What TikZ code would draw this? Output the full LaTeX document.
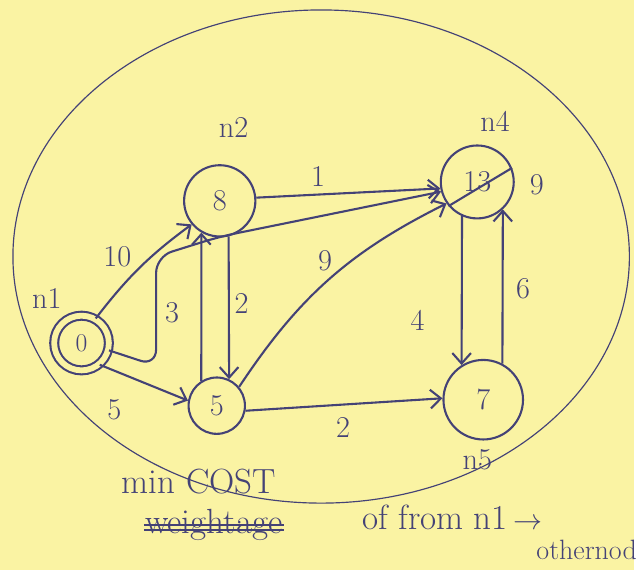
\documentclass[tikz,border=0pt]{standalone}
\usetikzlibrary{arrows.meta}
\definecolor{paper}{RGB}{250,243,163}
\definecolor{ink}{RGB}{68,66,118}
\begin{document}
\begin{tikzpicture}[x=0.03cm,y=-0.03cm,
  font=\fontsize{26}{30}\selectfont,
  every node/.style={text=ink},
  vertex/.style={draw=ink,line width=1.8pt,circle,inner sep=0pt},
  edge/.style={draw=ink,line width=1.8pt,-{Straight Barb[length=9pt,width=16pt,line width=1.8pt]}},
  note/.style={font=\fontsize{30}{34}\selectfont,inner sep=1pt}]
\fill[paper] (0,0) rectangle (638,573);
\draw[ink,line width=1pt] (323,258) ellipse [x radius=310,y radius=248];
\node[vertex,minimum size=1.65cm,double=paper,double distance=5pt,font=\fontsize{22}{24}\selectfont] (n1) at (82,345) {0};
\node[vertex,minimum size=2.15cm] (n2) at (221,202) {8};
\node[vertex,minimum size=1.7cm] (n3) at (218,408) {5};
\node[vertex,minimum size=2.2cm] (n4) at (480,183) {13};
\node[vertex,minimum size=2.4cm] (n5) at (486,402) {7};
\draw[ink,line width=1.8pt] (n4.-140) -- (n4.22);
\node (l1) at (47,300) {n1};
\node (l2) at (235,128) {n2};
\node (l4) at (498,122) {n4};
\node (l5) at (480,462) {n5};
\node (v4) at (540,186) {9};
\draw[edge] (n1.60) to[bend left=8] (n2.-140);
\draw[edge] (n1.-50) -- (n3.170);
\draw[edge] (n3.122) -- (n2.-120);
\draw[edge] (n2.-76) -- (n3.65);
\draw[edge] (n2.5) -- (n4.190);
\draw[edge] (n3.40) to[bend left=15] (n4.-145);
\draw[edge] (n4.-114) -- (n5.122);
\draw[edge] (n5.62) -- (n4.-47);
\draw[edge] (n3.-10) -- (n5.178);
\draw[edge,rounded corners=14pt] (n1.-15) -- (157,368) -- (157,258) -- (221,238) -- (n4.-165);
\node (w12) at (118,258) {10};
\node (w13) at (115,412) {5};
\node (w32) at (173,315) {3};
\node (w23) at (243,305) {2};
\node (w24) at (320,178) {1};
\node (w34) at (327,262) {9};
\node (w45) at (420,322) {4};
\node (w54) at (526,290) {6};
\node (w35) at (345,430) {2};
\node[note] (mc) at (200,484) {min COST};
\node[note] (wt) at (215,528) {weightage};
\draw[ink,line width=1.5pt] (wt.west) -- (wt.east);
\draw[ink,line width=1.5pt] ([yshift=-4pt]wt.west) -- ([yshift=-4pt]wt.east);
\node[note] (of) at (455,520) {of from n1\,$\to$};
\node[note,font=\fontsize{24}{28}\selectfont] (on) at (590,553) {othernod};
\end{tikzpicture}
\end{document}
